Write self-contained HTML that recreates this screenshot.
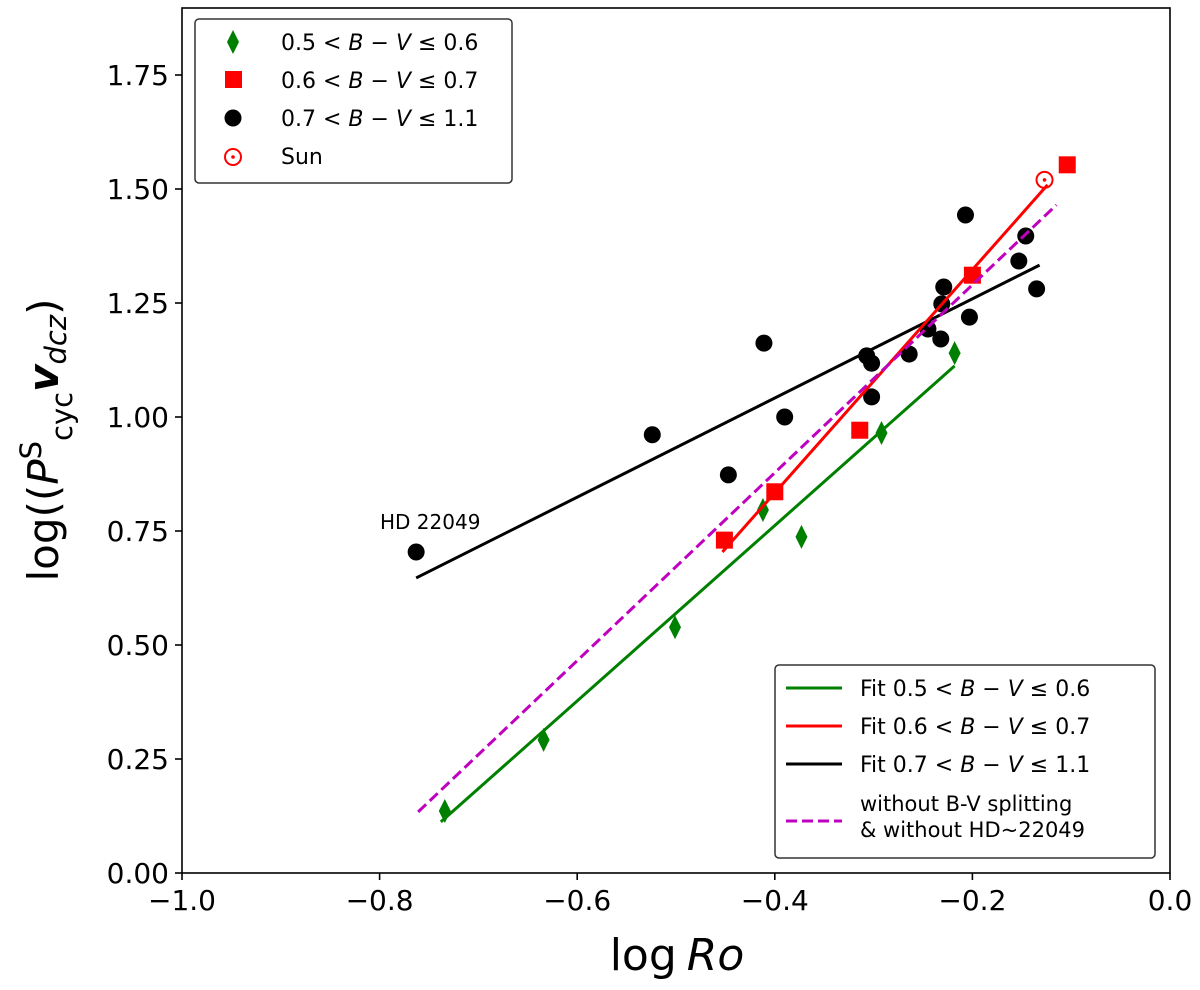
<!DOCTYPE html>
<html><head><meta charset="utf-8"><style>
html,body{margin:0;padding:0;background:#fff}
svg{display:block;font-family:"DejaVu Sans","Liberation Sans",sans-serif}
</style></head><body>
<svg id="chart" width="1200" height="990" viewBox="0 0 1200 990" xmlns="http://www.w3.org/2000/svg">
<rect x="0" y="0" width="1200" height="990" fill="#fff"/>
<g id="marks"></g>
<rect x="182" y="8" width="988" height="865" fill="none" stroke="#000" stroke-width="1.6"/>
<g id="axes"></g>
<text x="677" y="970" font-size="44" text-anchor="middle">log<tspan font-style="italic" dx="10">Ro</tspan></text>
<text transform="translate(58,440) rotate(-90)" font-size="42" text-anchor="middle">log((<tspan font-style="italic">P</tspan><tspan font-size="29" dy="-17">S</tspan><tspan font-size="29" dy="31">cyc</tspan><tspan font-style="italic" font-weight="bold" dy="-14">v</tspan><tspan font-style="italic" font-size="29" dy="8">dcz</tspan><tspan dy="-8">)</tspan></text>
<text x="380" y="529" font-size="20">HD 22049</text>
<g>
<rect x="195" y="19" width="317" height="164" rx="4" fill="#fff" stroke="#333" stroke-width="1.5"/>
<polygon points="233,30 239,42 233,54 227,42" fill="#008000"/>
<text x="281" y="50" font-size="22">0.5 &lt; <tspan font-style="italic">B</tspan> − <tspan font-style="italic">V</tspan> ≤ 0.6</text>
<rect x="225" y="71" width="17" height="17" fill="#ff0000"/>
<text x="281" y="88" font-size="22">0.6 &lt; <tspan font-style="italic">B</tspan> − <tspan font-style="italic">V</tspan> ≤ 0.7</text>
<circle cx="233" cy="118" r="8.5" fill="#000"/>
<text x="281" y="126" font-size="22">0.7 &lt; <tspan font-style="italic">B</tspan> − <tspan font-style="italic">V</tspan> ≤ 1.1</text>
<circle cx="233" cy="157" r="8" fill="none" stroke="#ff0000" stroke-width="2"/>
<circle cx="233" cy="157" r="1.8" fill="#ff0000"/>
<text x="281" y="164" font-size="22">Sun</text>
</g>
<g>
<rect x="775" y="665" width="380" height="193" rx="4" fill="#fff" stroke="#333" stroke-width="1.5"/>
<line x1="786" y1="688" x2="842" y2="688" stroke="#008000" stroke-width="3"/>
<text x="860" y="696" font-size="22">Fit 0.5 &lt; <tspan font-style="italic">B</tspan> − <tspan font-style="italic">V</tspan> ≤ 0.6</text>
<line x1="786" y1="726" x2="842" y2="726" stroke="#ff0000" stroke-width="3"/>
<text x="860" y="734" font-size="22">Fit 0.6 &lt; <tspan font-style="italic">B</tspan> − <tspan font-style="italic">V</tspan> ≤ 0.7</text>
<line x1="786" y1="764" x2="842" y2="764" stroke="#000" stroke-width="3"/>
<text x="860" y="772" font-size="22">Fit 0.7 &lt; <tspan font-style="italic">B</tspan> − <tspan font-style="italic">V</tspan> ≤ 1.1</text>
<line x1="786" y1="821" x2="842" y2="821" stroke="#bf00bf" stroke-width="3" stroke-dasharray="11,5"/>
<text x="860" y="811" font-size="21">without B-V splitting</text>
<text x="860" y="837" font-size="21">&amp; without HD~22049</text>
</g>
<script>
const xTicks=[-1.0,-0.8,-0.6,-0.4,-0.2,0.0];
const xTickLabels=["−1.0","−0.8","−0.6","−0.4","−0.2","0.0"];
const yTicks=[0,0.25,0.5,0.75,1.0,1.25,1.5,1.75];
const yTickLabels=["0.00","0.25","0.50","0.75","1.00","1.25","1.50","1.75"];
const blackX=[-0.763,-0.524,-0.447,-0.411,-0.390,-0.307,-0.302,-0.302,-0.264,-0.245,-0.231,-0.229,-0.232,-0.203,-0.207,-0.153,-0.146,-0.135];
const blackY=[0.704,0.961,0.873,1.162,1.000,1.134,1.118,1.044,1.138,1.193,1.248,1.285,1.171,1.219,1.443,1.342,1.397,1.281];
const greenX=[-0.734,-0.634,-0.501,-0.412,-0.373,-0.292,-0.218];
const greenY=[0.136,0.292,0.539,0.796,0.737,0.965,1.140];
const redX=[-0.451,-0.400,-0.314,-0.200,-0.104];
const redY=[0.730,0.836,0.971,1.311,1.553];
const sunX=[-0.127];
const sunY=[1.520];
const fitBlackX=[-0.763,-0.132], fitBlackY=[0.647,1.333];
const fitGreenX=[-0.738,-0.218], fitGreenY=[0.112,1.112];
const fitRedX=[-0.453,-0.124], fitRedY=[0.704,1.509];
const fitAllX=[-0.761,-0.115], fitAllY=[0.134,1.465];

const X0=182,X1=1170,Y0=873,Y1=8,xmin=-1,xmax=0,ymin=0,ymax=(873-8)/456;
const sx=v=>X0+(v-xmin)/(xmax-xmin)*(X1-X0);
const sy=v=>Y0-(v-ymin)/(ymax-ymin)*(Y0-Y1);
const NS="http://www.w3.org/2000/svg";
const marks=document.getElementById('marks'),axes=document.getElementById('axes');
function mk(tag,attrs,parent){const e=document.createElementNS(NS,tag);for(const k in attrs)e.setAttribute(k,attrs[k]);parent.appendChild(e);return e;}
xTicks.forEach((t,i)=>{
  const l=mk('line',{x1:sx(t),x2:sx(t),y1:Y0,y2:Y0+7,stroke:'#000','stroke-width':1.6},axes);
  
  
  const tx=mk('text',{x:sx(t),y:Y0+37,'font-size':28,'text-anchor':'middle'},axes);
  tx.textContent=xTickLabels[i];
  
  
});
yTicks.forEach((t,i)=>{
  const l=mk('line',{x1:X0-7,x2:X0,y1:sy(t),y2:sy(t),stroke:'#000','stroke-width':1.6},axes);
  
  
  const tx=mk('text',{x:X0-13,y:sy(t)+10,'font-size':28,'text-anchor':'end'},axes);
  tx.textContent=yTickLabels[i];
  
  
});
function fit(xs,ys,color,name,dash){
  const l=mk('line',{x1:sx(xs[0]),y1:sy(ys[0]),x2:sx(xs[1]),y2:sy(ys[1]),stroke:color,'stroke-width':3},marks);
  if(dash)l.setAttribute('stroke-dasharray',dash);
  
  
}
blackX.forEach((x,i)=>{
  const c=mk('circle',{cx:sx(x),cy:sy(blackY[i]),r:8.5,fill:'#000'},marks);
  
  
});
greenX.forEach((x,i)=>{
  const px=sx(x),py=sy(greenY[i]);
  const p=mk('polygon',{points:`${px},${py-12} ${px+6},${py} ${px},${py+12} ${px-6},${py}`,fill:'#008000'},marks);
  
  
});
redX.forEach((x,i)=>{
  const r=mk('rect',{x:sx(x)-8.5,y:sy(redY[i])-8.5,width:17,height:17,fill:'#ff0000'},marks);
  
  
});
sunX.forEach((x,i)=>{
  const c=mk('circle',{cx:sx(x),cy:sy(sunY[i]),r:8,fill:'none',stroke:'#ff0000','stroke-width':2},marks);
  
  
  mk('circle',{cx:sx(x),cy:sy(sunY[i]),r:1.8,fill:'#ff0000'},marks);
});
fit(fitBlackX,fitBlackY,'#000','fit-line-black');
fit(fitGreenX,fitGreenY,'#008000','fit-line-green');
fit(fitRedX,fitRedY,'#ff0000','fit-line-red');
fit(fitAllX,fitAllY,'#bf00bf','fit-line-all','11,5');
</script>
</svg>
</body></html>
